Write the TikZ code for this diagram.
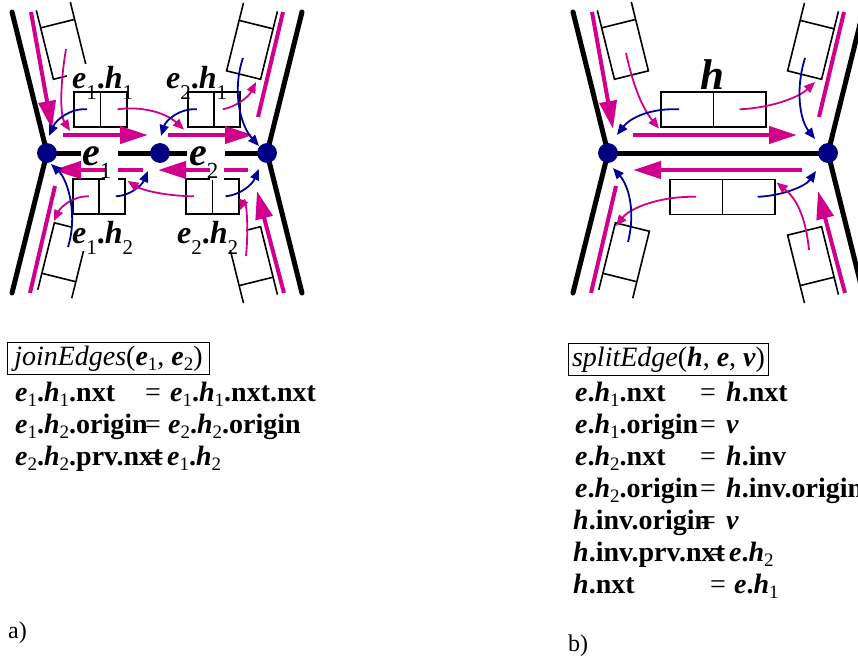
\documentclass[tikz,border=0pt]{standalone}
\usepackage{fontspec}
\setmainfont{Liberation Serif}
\usepackage{graphicx}
\usetikzlibrary{arrows.meta,calc}
\definecolor{mag}{RGB}{208,0,140}
\definecolor{nav}{RGB}{0,0,150}
\definecolor{dotc}{RGB}{0,0,135}
\newcommand\bi[1]{{\bfseries\itshape #1}}
\newcommand\bd[1]{{\bfseries #1}}
\newcommand\sbx[3]{\raisebox{-#2}{\fontsize{#1}{#1}\selectfont\mdseries\upshape #3}}
\newcommand\LT{\fontsize{28}{32}\selectfont}
\newcommand\ls[1]{\sbx{19pt}{5pt}{#1}}
\newcommand\SLf{\fontsize{32}{32}\selectfont}
\newcommand\lsb[1]{\sbx{21pt}{11pt}{#1}}
\newcommand\BLf{\fontsize{40}{40}\selectfont}
\newcommand\lbg[1]{\sbx{23pt}{13pt}{#1}}
\begin{document}
\begin{tikzpicture}[x=1pt,y=-1pt,
  edge/.style={line width=5pt, line cap=round},
  cellbox/.style={draw, line width=1.6pt, inner sep=0pt, minimum height=35pt, anchor=north west},
  dline/.style={line width=1.6pt},
  thickm/.style={mag, line width=4pt, -{Triangle[length=28pt,width=17pt]}},
  thickmn/.style={mag, line width=4pt},
  thinm/.style={mag, line width=1.8pt, -{Triangle[length=11pt,width=9pt]}},
  thinn/.style={nav, line width=1.8pt, -{Triangle[length=11pt,width=9pt]}},
  vtx/.style={circle, fill=dotc, draw=dotc!70!black, line width=0.8pt, inner sep=0pt, minimum size=19pt},
  txt/.style={anchor=base west, inner sep=0pt}]
\useasboundingbox (0,0) rectangle (858,662);
\clip (0,0) rectangle (858,662);

% ---------- common outer structure ----------
\foreach \p/\sh in {a/0,b/561}{
\begin{scope}[xshift=\sh pt]
  \coordinate (L\p) at (47,153);
  \coordinate (R\p) at (267,153);
  \coordinate (TL\p) at (12,12);
  \coordinate (BL\p) at (12,293);
  \coordinate (TR\p) at (302,12);
  \coordinate (BR\p) at (302,293);
  \draw[edge] (L\p) -- (TL\p);
  \draw[edge] (L\p) -- (BL\p);
  \draw[edge] (R\p) -- (TR\p);
  \draw[edge] (R\p) -- (BR\p);
  % diagonal half-edge boxes
  \begin{scope}[shift={(47,153)}, cm={-0.2409,0.9705,-0.9705,-0.2409,(0,0)}]
    \draw[dline] (141,24) -- (70,24) -- (70,59) -- (141,59);
    \draw[dline] (123,24) -- (123,59);
  \end{scope}
  \begin{scope}[shift={(47,153)}, cm={-0.2409,-0.9705,-0.9705,0.2409,(0,0)}]
    \draw[dline] (135,24) -- (66,24) -- (66,59) -- (135,59);
    \draw[dline] (118,24) -- (118,59);
  \end{scope}
  \begin{scope}[shift={(267,153)}, cm={0.2409,0.9705,0.9705,-0.2409,(0,0)}]
    \draw[dline] (140,24) -- (70,24) -- (70,59) -- (140,59);
    \draw[dline] (122,24) -- (122,59);
  \end{scope}
  \begin{scope}[shift={(267,153)}, cm={0.2409,-0.9705,0.9705,0.2409,(0,0)}]
    \draw[dline] (140,24) -- (70,24) -- (70,59) -- (140,59);
    \draw[dline] (122,24) -- (122,59);
  \end{scope}
  % outer thick magenta half-edges
  \coordinate (omTLs\p) at (31,12);  \coordinate (omTLe\p) at (52,129);
  \coordinate (omTRs\p) at (258,117); \coordinate (omTRe\p) at (283,12);
  \coordinate (omBLs\p) at (55,186); \coordinate (omBLe\p) at (30,293);
  \coordinate (omBRs\p) at (284,293); \coordinate (omBRe\p) at (257,191);
  \draw[thickm] (omTLs\p) -- (omTLe\p);
  \draw[thickmn] (omTRs\p) -- (omTRe\p);
  \draw[thickmn] (omBLs\p) -- (omBLe\p);
  \draw[thickm] (omBRs\p) -- (omBRe\p);
\end{scope}
}

% ---------- part a ----------
\coordinate (Ma) at (160,153);
\draw[edge] (La) -- (Ma) -- (Ra);
\node[cellbox, minimum width=26.5pt] (h11L) at (73,91) {};
\node[cellbox, minimum width=26.5pt] (h11R) at (99.5,91) {};
\node[cellbox, minimum width=26pt] (h21L) at (187,91) {};
\node[cellbox, minimum width=26pt] (h21R) at (213,91) {};
\node[cellbox, minimum width=26pt] (h12L) at (72,178) {};
\node[cellbox, minimum width=26pt] (h12R) at (98,178) {};
\node[cellbox, minimum width=26.5pt] (h22L) at (185,178) {};
\node[cellbox, minimum width=26.5pt] (h22R) at (211.5,178) {};

\coordinate (ua1s) at (63,135); \coordinate (ua1e) at (148,135);
\coordinate (ua2s) at (168,135); \coordinate (ua2e) at (253,135);
\coordinate (la1s) at (143,170); \coordinate (la1e) at (53,170);
\coordinate (la2s) at (248,170); \coordinate (la2e) at (158,170);
\draw[thickm] (ua1s) -- (ua1e);
\draw[thickm] (ua2s) -- (ua2e);
\draw[thickm] (la1s) -- (la1e);
\draw[thickm] (la2s) -- (la2e);

% label backgrounds
\fill[white] (67,64) rectangle (138,89);
\fill[white] (72,216) rectangle (142,251);
\fill[white] (176,216) rectangle (246,250);
\fill[white] (81,142) rectangle (118,163);
\fill[white] (105,161) rectangle (118,180);
\fill[white] (187,142) rectangle (225,163);
\fill[white] (210,161) rectangle (224,180);

\node[txt] (le1h1) at (72,88) {\SLf\bi{e}\lsb{1}\bd{.}\bi{h}\lsb{1}};
\node[txt] (le2h1) at (166,88) {\SLf\bi{e}\lsb{2}\bd{.}\bi{h}\lsb{1}};
\node[txt] (le1h2) at (72,243) {\SLf\bi{e}\lsb{1}\bd{.}\bi{h}\lsb{2}};
\node[txt] (le2h2) at (177,243) {\SLf\bi{e}\lsb{2}\bd{.}\bi{h}\lsb{2}};
\node[txt] (le1) at (82,165) {\BLf\bi{e}\lbg{1}};
\node[txt] (le2) at (189,165) {\BLf\bi{e}\lbg{2}};

% thin pointers part a
\coordinate (m1s) at (66,49);   \coordinate (m1e) at (70,131);
\coordinate (m3e) at (256,82);
\coordinate (n3s) at (243,58);
\coordinate (n6s) at (68,247);
\coordinate (m6s) at (246,256);
\draw[thinm] (m1s) .. controls (60,85) and (60,115) .. (m1e);
\draw[thinn] (h11L.center) .. controls (70,108) and (56,120) .. ([shift={(2,-17)}]La);
\draw[thinm] ([xshift=4pt]h11R.center) .. controls (140,106) and (165,112) .. ([shift={(-3,2)}]h21L.south west);
\draw[thinn] ([xshift=-4pt]h21L.center) .. controls (180,108) and (166,120) .. ([shift={(1,-17)}]Ma);
\draw[thinm] ([xshift=-4pt]h21R.center) .. controls (235,107) and (248,98) .. (m3e);
\draw[thinn] (n3s) .. controls (232,90) and (240,125) .. ([shift={(-8,-7)}]Ra);
\draw[thinn] ([xshift=4pt]h12R.center) .. controls (130,196) and (142,185) .. ([shift={(-12,18)}]Ma);
\draw[thinm] ([xshift=-5pt]h22L.center) .. controls (165,196) and (142,190) .. ([shift={(2,3)}]h12R.north east);
\draw[thinm] ([xshift=3pt]h12L.center) .. controls (72,196) and (60,208) .. ([shift={(7,68)}]La);
\draw[thinn] (h22R.center) .. controls (240,195) and (252,185) .. ([shift={(-8,16)}]Ra);
\draw[thinn] (n6s) .. controls (78,215) and (68,180) .. ([shift={(4,11)}]La);
\draw[thinm] (m6s) .. controls (249,225) and (246,195) .. ([shift={(0,-4)}]h22R.south east);

% ---------- part b ----------
\draw[edge] (Lb) -- (Rb);
\node[cellbox, minimum width=52.5pt] (hbUL) at (660,91) {};
\node[cellbox, minimum width=52.5pt] (hbUR) at (712.5,91) {};
\node[cellbox, minimum width=52.5pt] (hbLL) at (669,178.5) {};
\node[cellbox, minimum width=52.5pt] (hbLR) at (721.5,178.5) {};
\coordinate (ub1s) at (633,135); \coordinate (ub1e) at (797,135);
\coordinate (lb1s) at (802,170); \coordinate (lb1e) at (633,170);
\draw[thickm] (ub1s) -- (ub1e);
\draw[thickm] (lb1s) -- (lb1e);
\node[txt] (lh) at (700,89) {\fontsize{43}{43}\selectfont\bi{h}};

\coordinate (mb1s) at (626,53);
\coordinate (mb2e) at (815,82);
\coordinate (nb2s) at (805,58);
\coordinate (mb3e) at (616,226);
\coordinate (nb4s) at (628,242);
\coordinate (mb4s) at (809,250);
\draw[thinm] (mb1s) .. controls (632,80) and (640,105) .. ([shift={(-1,1)}]hbUL.south west);
\draw[thinn] ([xshift=-8pt]hbUL.center) .. controls (650,108) and (630,118) .. ([shift={(9,-18)}]Lb);
\draw[thinm] (hbUR.center) .. controls (770,108) and (798,98) .. (mb2e);
\draw[thinn] (nb2s) .. controls (795,90) and (800,120) .. ([shift={(-13,-14)}]Rb);
\draw[thinm] (hbLL.center) .. controls (660,196) and (630,208) .. (mb3e);
\draw[thinn] ([xshift=9pt]hbLR.center) .. controls (780,196) and (805,187) .. ([shift={(-12,18)}]Rb);
\draw[thinn] (nb4s) .. controls (636,210) and (628,185) .. ([shift={(5,15)}]Lb);
\draw[thinm] (mb4s) .. controls (806,220) and (798,200) .. ([shift={(1,4)}]hbLR.north east);

% vertices
\node[vtx] (vLa) at (La) {};
\node[vtx] (vMa) at (Ma) {};
\node[vtx] (vRa) at (Ra) {};
\node[vtx] (vLb) at (Lb) {};
\node[vtx] (vRb) at (Rb) {};

% ---------- texts a ----------
\node[draw, line width=1pt, inner sep=0pt, minimum width=202pt, minimum height=32pt, anchor=north west] (jbox) at (7,342)
  {\LT\itshape joinEdges\upshape(\bi{e}\ls{1}, \bi{e}\ls{2})};
\node[txt] (a1l) at (15,401) {\LT\bi{e}\ls{1}\bd{.}\bi{h}\ls{1}\bd{.nxt}};
\node[txt] (a1q) at (145,401) {\LT =};
\node[txt] (a1r) at (170,401) {\LT\bi{e}\ls{1}\bd{.}\bi{h}\ls{1}\bd{.nxt.nxt}};
\node[txt] (a2l) at (15,433) {\LT\bi{e}\ls{1}\bd{.}\bi{h}\ls{2}\bd{.origin}};
\node[txt] (a2q) at (145,433) {\LT =};
\node[txt] (a2r) at (168,433) {\LT\bi{e}\ls{2}\bd{.}\bi{h}\ls{2}\bd{.origin}};
\node[txt] (a3l) at (15,465) {\LT\bi{e}\ls{2}\bd{.}\bi{h}\ls{2}\bd{.prv.nxt}};
\node[txt] (a3q) at (148,465) {\LT =};
\node[txt] (a3r) at (167,465) {\LT\bi{e}\ls{1}\bd{.}\bi{h}\ls{2}};
\node[txt] (lba) at (8,638) {\fontsize{24}{24}\selectfont a)};

% ---------- texts b ----------
\node[draw, line width=1pt, inner sep=0pt, minimum width=200pt, minimum height=32pt, anchor=north west] (sbox) at (568,343)
  {\LT\itshape splitEdge\upshape(\bi{h}, \bi{e}, \bi{v})};
\node[txt] (b1l) at (575,401) {\LT\bi{e}\bd{.}\bi{h}\ls{1}\bd{.nxt}};
\node[txt] (b1q) at (700,401) {\LT =};
\node[txt] (b1r) at (726,401) {\LT\bi{h}\bd{.nxt}};
\node[txt] (b2l) at (575,433) {\LT\bi{e}\bd{.}\bi{h}\ls{1}\bd{.origin}};
\node[txt] (b2q) at (700,433) {\LT =};
\node[txt] (b2r) at (726,433) {\LT\bi{v}};
\node[txt] (b3l) at (575,465) {\LT\bi{e}\bd{.}\bi{h}\ls{2}\bd{.nxt}};
\node[txt] (b3q) at (700,465) {\LT =};
\node[txt] (b3r) at (726,465) {\LT\bi{h}\bd{.inv}};
\node[txt] (b4l) at (575,497) {\LT\bi{e}\bd{.}\bi{h}\ls{2}\bd{.origin}};
\node[txt] (b4q) at (700,497) {\LT =};
\node[txt] (b4r) at (726,497) {\LT\bi{h}\bd{.inv.origin}};
\node[txt] (b5l) at (573,529) {\LT\bi{h}\bd{.inv.origin}};
\node[txt] (b5q) at (700,529) {\LT =};
\node[txt] (b5r) at (726,529) {\LT\bi{v}};
\node[txt] (b6l) at (573,561) {\LT\bi{h}\bd{.inv.prv.nxt}};
\node[txt] (b6q) at (710,561) {\LT =};
\node[txt] (b6r) at (729,561) {\LT\bi{e}\bd{.}\bi{h}\ls{2}};
\node[txt] (b7l) at (573,593) {\LT\bi{h}\bd{.nxt}};
\node[txt] (b7q) at (710,593) {\LT =};
\node[txt] (b7r) at (734,593) {\LT\bi{e}\bd{.}\bi{h}\ls{1}};
\node[txt] (lbb) at (568,651) {\fontsize{24}{24}\selectfont b)};
\end{tikzpicture}
\end{document}
